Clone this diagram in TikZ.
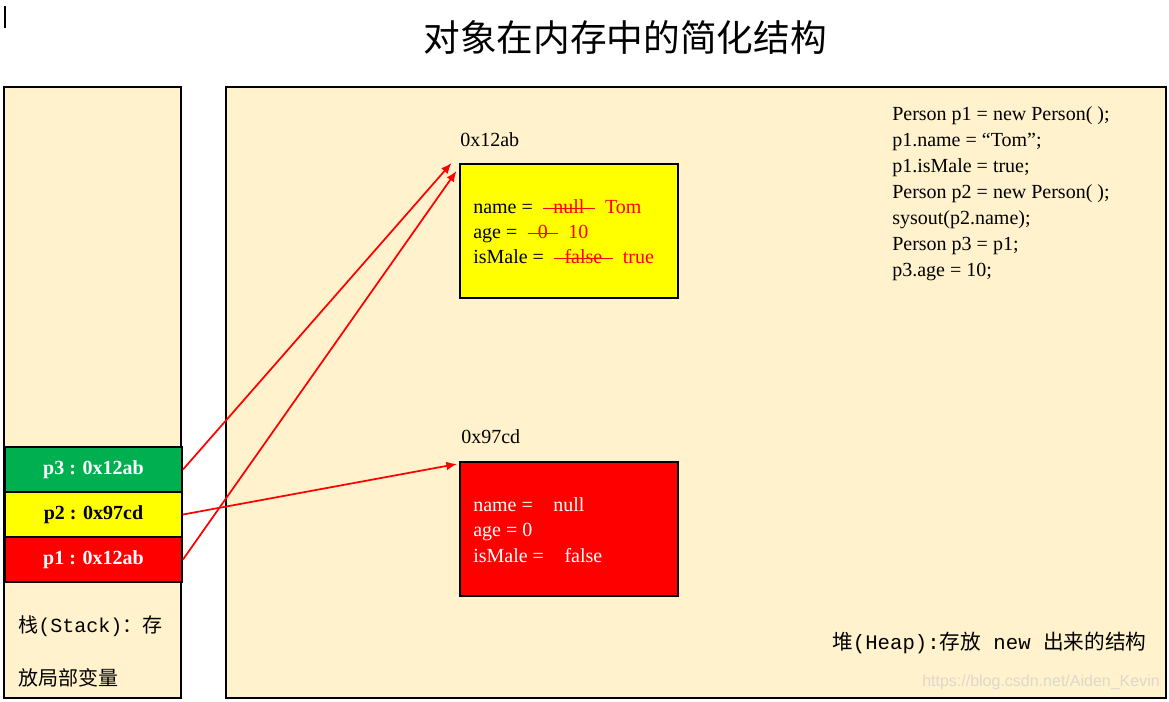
\documentclass[tikz,border=0pt]{standalone}
\usepackage{fontspec}
\setmainfont{Liberation Serif}
\setmonofont{Liberation Mono}
\newfontfamily\cjk{Noto Sans CJK SC}
\usetikzlibrary{arrows.meta, positioning}
\definecolor{paper}{HTML}{FFF2CC}
\definecolor{cellgreen}{HTML}{00B050}
\definecolor{cellyellow}{HTML}{FFFF00}
\definecolor{cellred}{HTML}{FF0000}
\definecolor{wmark}{HTML}{DDD8CC}

\tikzset{
  panel/.style={draw=black, line width=1.5pt, fill=paper},
  cell/.style={draw=black, line width=1.5pt, anchor=north west, inner sep=0pt,
    minimum width=132.75pt, minimum height=33.75pt,
    font=\fontsize{15}{18}\selectfont\bfseries},
  objbox/.style={draw=black, line width=1.5pt, anchor=north west,
    minimum width=163.5pt, minimum height=100.5pt},
  txt/.style={inner sep=0pt, anchor=base west, font=\fontsize{15}{18}\selectfont},
  ref/.style={draw=red, line width=1.3pt, -{Latex[length=8pt, width=6.5pt]}},
}

\begin{document}
\begin{tikzpicture}[x=0.75pt, y=-0.75pt]
  \fill[white] (0,0) rectangle (1169,701);
  \useasboundingbox (0,0) rectangle (1169,701);
  \draw[line width=0.8pt] (5,6) -- (5,28);

  % Title
  \node[font=\fontsize{27.5}{33}\selectfont\cjk] (title) at (625,38) {对象在内存中的简化结构};

  % Stack and heap areas
  \draw[panel] (4,87) rectangle (181,698);
  \draw[panel] (226,87) rectangle (1166,698);

  % Stack cells
  \node[cell, fill=cellgreen, text=white] (p3) at (4,446) {p3 : 0x12ab};
  \node[cell, fill=cellyellow] (p2) at (4,491) {p2 : 0x97cd};
  \node[cell, fill=cellred, text=white] (p1) at (4,536) {p1 : 0x12ab};

  \node[anchor=west, inner sep=0pt, font=\fontsize{15}{18}\selectfont] (stacklbl1) at (18,626)
    {{\cjk 栈}\texttt{(Stack)}{\cjk ：存}};
  \node[anchor=west, inner sep=0pt, font=\fontsize{15}{18}\selectfont\cjk] (stacklbl2) at (18,678)
    {放局部变量};

  % Objects on the heap
  \node[txt] (addrA) at (460,146) {0x12ab};
  \node[objbox, fill=cellyellow] (objA) at (459,163) {};
  \foreach \yy/\lbl/\old/\new [count=\i] in {
    213/{name =}/null/Tom,
    238.5/{age =}/0/10,
    263.5/{isMale =}/false/true
  } {
    \node[txt] (lblA\i) at (473,\yy) {\lbl};
    \node[txt, text=red, base right=15pt of lblA\i] (oldA\i) {\old};
    \node[txt, text=red, base right=15pt of oldA\i] (newA\i) {\new};
    \draw[red, line width=0.8pt] ([xshift=-7.5pt, yshift=3.5pt]oldA\i.base west)
      -- ([xshift=7.5pt, yshift=3.5pt]oldA\i.base east);
  }

  \node[txt] (addrB) at (461,443.5) {0x97cd};
  \node[objbox, fill=cellred] (objB) at (459,461) {};
  \foreach \yy/\lbl/\val [count=\i] in {
    511/{name =}/null,
    536.5/{age = 0}/{},
    562/{isMale =}/false
  } {
    \node[txt, text=white] (lblB\i) at (473,\yy) {\lbl};
    \node[txt, text=white, base right=15pt of lblB\i] (valB\i) {\val};
  }

  % Code
  \foreach \ln [count=\i] in {
    {Person p1 = new Person( );},
    {p1.name = “Tom”;},
    {p1.isMale = true;},
    {Person p2 = new Person( );},
    {sysout(p2.name);},
    {Person p3 = p1;},
    {p3.age = 10;}
  } {
    \node[txt] (code\i) at (892,94+26*\i) {\ln};
  }

  \node[anchor=west, inner sep=0pt, font=\fontsize{15.5}{18}\selectfont] (heaplbl) at (832,643)
    {{\cjk 堆}\texttt{(Heap):}{\cjk 存放}\texttt{ new }{\cjk 出来的结构}};
  \node[anchor=east, inner sep=0pt, text=wmark, font=\fontsize{12}{14}\selectfont\sffamily] (wm) at (1160,682)
    {\fontspec{Liberation Sans}https://blog.csdn.net/Aiden\_Kevin};

  % References
  \coordinate (tipA) at (451.5,163);
  \coordinate (tipB) at (456.5,171);
  \coordinate (tipC) at (457,464);
  \draw[ref] (p3.east) -- (tipA);
  \draw[ref] (p1.east) -- (tipB);
  \draw[ref] (p2.east) -- (tipC);
\end{tikzpicture}
\end{document}
